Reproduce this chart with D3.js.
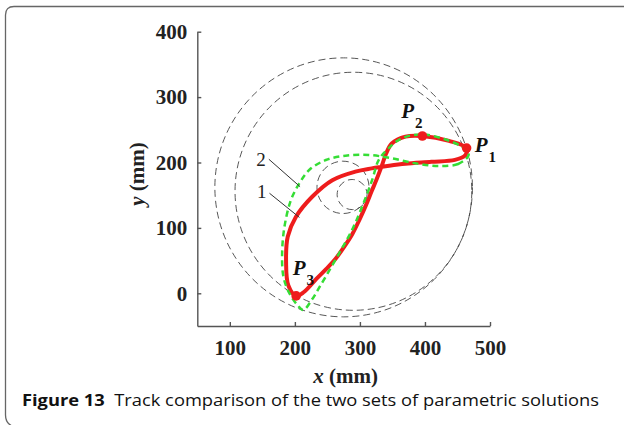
<!DOCTYPE html>
<html>
<head>
<meta charset="utf-8">
<script src="https://cdn.jsdelivr.net/npm/d3@7"></script>
<style>
  body { margin: 0; background: #fff; }
  svg { display: block; }
  .axis path, .axis line { stroke: #555; stroke-width: 1.4; }
  .axis text { font-family: "Liberation Serif", serif; font-weight: bold; font-size: 21px; fill: #222; }
</style>
</head>
<body>
<div id="container"></div>
<script>
const w = 624, h = 425;

// data (mm)
const xTicks = [100, 200, 300, 400, 500];
const yTicks = [0, 100, 200, 300, 400];
// solution 1 (red, closed loop)
const track1 = [[464,222],[437,233],[396,240.5],[370,239.5],[349,229],[340,213],[334,196],[326,175],
    [318,156],[309,134],[299,112],[288,90],[275,70],[262,52],[248,37],[233,22],[214,2],[202,-4],
    [190,12],[186.5,48],[189,86.5],[201.7,117],[227,148],[257.6,173],[293,186],[318,191],[345,195],
    [370,198],[410,201],[446,204],[462,211]];
// solution 2 (green dashed, closed loop)
const track2 = [[466,209],[451,197.7],[420.5,194.6],[385,198.7],[349,206.4],[313.7,211.5],[278,210.4],
    [247.6,203.8],[222,188.5],[206.8,168],[194,142.7],[184,101.8],[180.4,61],[182.4,25.4],[191.5,0],
    [204,-18],[213,-25.5],[226,-10],[240,13],[268,61],[288,97],[303.4,132.4],[318.7,173],[329,204],
    [344,221.7],[364.5,237],[395,243],[430.7,235.5],[457,224],[467,215]];
// crank circles: centre x, centre y, radius
const circleCx = [275, 290, 274, 288];
const circleCy = [162, 156, 162, 151];
const circleR  = [198, 182, 40, 23];
// key points
const pointNames = ["1", "2", "3"];
const pointXY = [[464,222],[396,240.5],[202,-4]];
const pointLabelXY = [[476.5,215.8],[363.6,267.6],[196.6,28]];
// curve numbers and leader lines
const curveNames = ["2", "1"];
const curveNameXY = [[148,194],[149,145]];
const leaderFrom = [[160,205],[161,153]];
const leaderTo = [[208,163],[207,116]];

var svg = d3.select("div#container")
    .append("svg")
    .attr("width", w)
    .attr("height", h)
    .attr("viewBox", "0 0 " + w + " " + h);

// frame
svg.append("path")
    .attr("d", "M624,6.5 H14 Q5.5,6.5 5.5,15 V415 Q5.5,423 12,426")
    .attr("fill", "none")
    .attr("stroke", "#666")
    .attr("stroke-width", 1.3);

var x = d3.scaleLinear().domain([50, 500]).range([197.3, 490]);
var y = d3.scaleLinear().domain([-50, 400]).range([326, 31.7]);

// axes, ticks pointing inward
svg.append("g")
    .attr("class", "axis")
    .attr("transform", "translate(0," + y(-50) + ")")
    .call(d3.axisBottom(x).tickValues(xTicks).tickSizeInner(-4).tickSizeOuter(0).tickPadding(14));
svg.append("g")
    .attr("class", "axis")
    .attr("transform", "translate(" + x(50) + ",0)")
    .call(d3.axisLeft(y).tickValues(yTicks).tickSizeInner(-4).tickSizeOuter(0).tickPadding(10));

// axis titles
var xt = svg.append("text")
    .attr("x", (x(50) + x(500)) / 2 + 2)
    .attr("y", 383)
    .attr("text-anchor", "middle")
    .style("font-family", "Liberation Serif, serif")
    .style("font-weight", "bold")
    .style("font-size", "21px")
    .style("fill", "#222");
xt.append("tspan").style("font-style", "italic").text("x");
xt.append("tspan").text(" (mm)");

var yt = svg.append("text")
    .attr("transform", "translate(144," + 174 + ") rotate(-90)")
    .attr("text-anchor", "middle")
    .style("font-family", "Liberation Serif, serif")
    .style("font-weight", "bold")
    .style("font-size", "21px")
    .style("fill", "#222");
yt.append("tspan").style("font-style", "italic").text("y");
yt.append("tspan").text(" (mm)");

// dashed circles
svg.selectAll("ellipse.crank")
    .data(d3.range(circleR.length))
    .enter().append("ellipse")
    .attr("class", "crank")
    .attr("cx", i => x(circleCx[i]))
    .attr("cy", i => y(circleCy[i]))
    .attr("rx", i => x(circleR[i]) - x(0))
    .attr("ry", i => y(0) - y(circleR[i]))
    .attr("fill", "none")
    .attr("stroke", "#444")
    .attr("stroke-width", 0.9)
    .attr("stroke-dasharray", "7,4");

var line = d3.line()
    .x(d => x(d[0]))
    .y(d => y(d[1]))
    .curve(d3.curveCatmullRomClosed.alpha(0.5));

svg.append("path")
    .datum(track1)
    .attr("d", line)
    .attr("fill", "none")
    .attr("stroke", "#ee1c1c")
    .attr("stroke-width", 4)
    .attr("stroke-linejoin", "round");

svg.append("path")
    .datum(track2)
    .attr("d", line)
    .attr("fill", "none")
    .attr("stroke", "#35dd35")
    .attr("stroke-width", 2.5)
    .attr("stroke-dasharray", "6,4");

// key points
svg.selectAll("circle.key")
    .data(pointXY)
    .enter().append("circle")
    .attr("class", "key")
    .attr("cx", d => x(d[0]))
    .attr("cy", d => y(d[1]))
    .attr("r", 4.8)
    .attr("fill", "#ee1c1c");

pointNames.forEach(function (n, i) {
    var t = svg.append("text")
        .attr("x", x(pointLabelXY[i][0]))
        .attr("y", y(pointLabelXY[i][1]))
        .style("font-family", "Liberation Serif, serif")
        .style("font-weight", "bold")
        .style("font-size", "21px")
        .style("fill", "#111");
    t.append("tspan").style("font-style", "italic").text("P");
    t.append("tspan").attr("dy", 10).attr("dx", 1).style("font-size", "15px").text(n);
});

// curve numbers
svg.selectAll("line.leader")
    .data(d3.range(curveNames.length))
    .enter().append("line")
    .attr("class", "leader")
    .attr("x1", i => x(leaderFrom[i][0]))
    .attr("y1", i => y(leaderFrom[i][1]))
    .attr("x2", i => x(leaderTo[i][0]))
    .attr("y2", i => y(leaderTo[i][1]))
    .attr("stroke", "#333")
    .attr("stroke-width", 1);
svg.selectAll("text.cname")
    .data(d3.range(curveNames.length))
    .enter().append("text")
    .attr("class", "cname")
    .attr("x", i => x(curveNameXY[i][0]))
    .attr("y", i => y(curveNameXY[i][1]))
    .attr("text-anchor", "middle")
    .style("font-family", "Liberation Serif, serif")
    .style("font-size", "19px")
    .style("fill", "#222")
    .text(i => curveNames[i]);

// caption
var cap = svg.append("text")
    .attr("x", 22)
    .attr("y", 406)
    .attr("textLength", 577)
    .attr("lengthAdjust", "spacingAndGlyphs")
    .style("font-family", "Open Sans, sans-serif")
    .style("font-size", "16px")
    .style("fill", "#111");
cap.append("tspan").style("font-weight", "bold").text("Figure 13");
cap.append("tspan").text("\u00a0 Track comparison of the two sets of parametric solutions");
</script>
</body>
</html>
